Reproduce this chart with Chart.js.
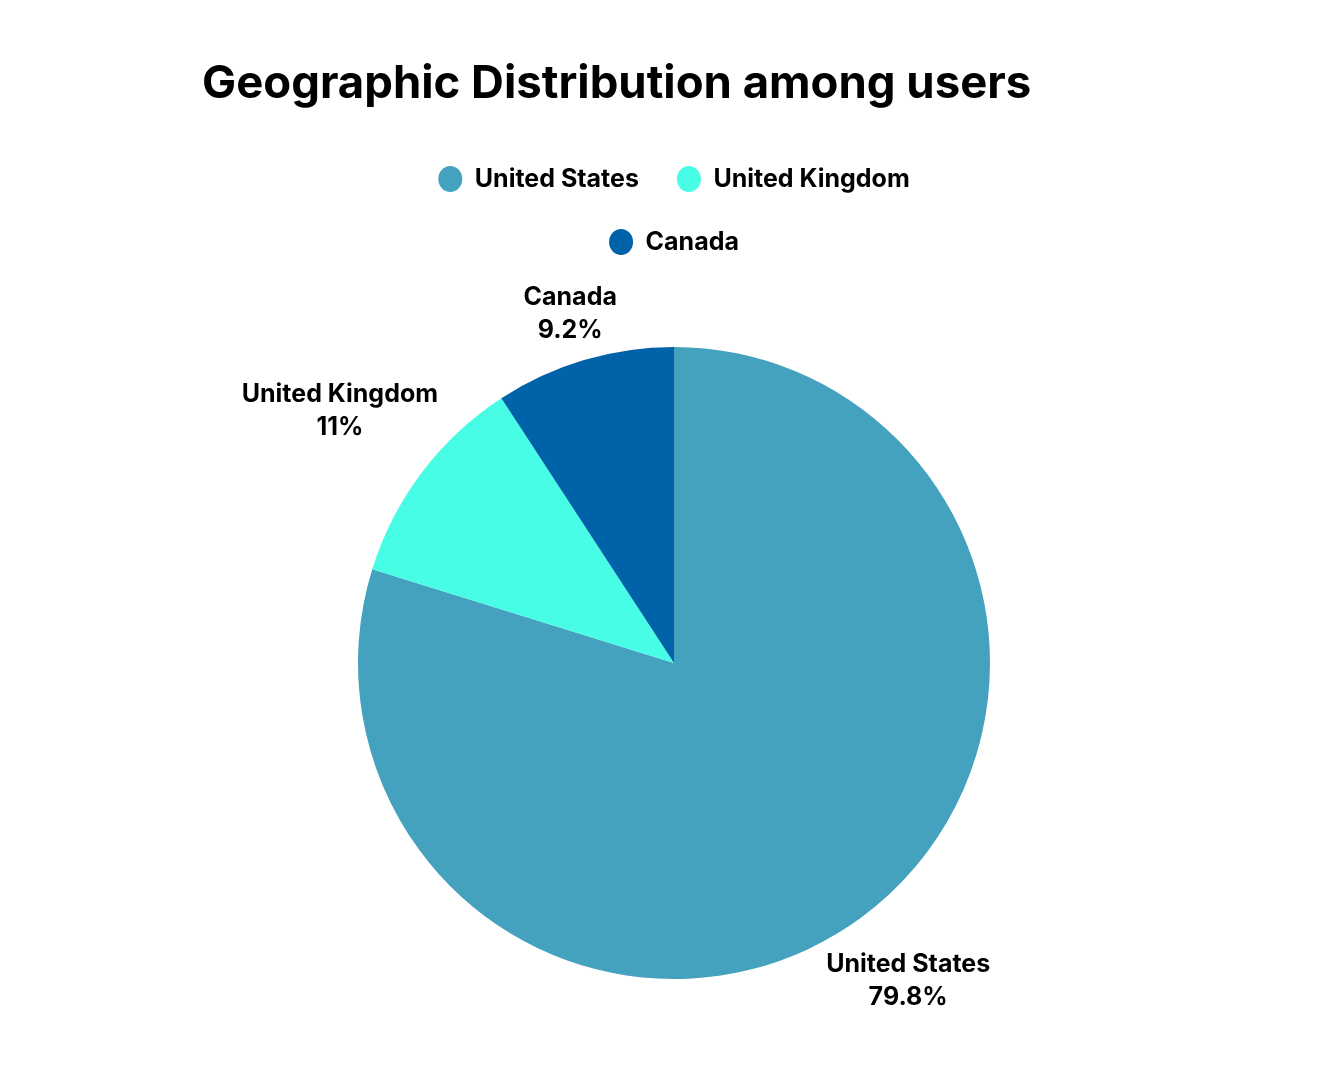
<!DOCTYPE html>
<html>
<head>
<meta charset="utf-8">
<script src="https://cdn.jsdelivr.net/npm/chart.js@4.4.1/dist/chart.umd.min.js"></script>
<style>
  html, body { margin: 0; padding: 0; background: #fff; }
  #wrap { width: 1325px; height: 1080px; }
</style>
</head>
<body>
<div id="wrap"><canvas id="geoChart" width="1325" height="1080"></canvas></div>
<script>
const chartTitle = 'Geographic Distribution among users';
const countries = ['United States', 'United Kingdom', 'Canada'];
const userShares = [79.8, 11, 9.2];
const sliceColors = ['#45A2BE', '#48FDE6', '#0062A9'];

const FONT = 'Inter, "Noto Sans", sans-serif';

// title drawn by hand so it can sit left of the narrow legend box
const titlePlugin = {
    id: 'leftTitle',
    afterDraw(chart) {
        const ctx = chart.ctx;
        ctx.save();
        ctx.font = '700 45.5px ' + FONT;
        ctx.fillStyle = '#000';
        ctx.textAlign = 'left';
        ctx.textBaseline = 'alphabetic';
        ctx.fillText(chartTitle, 202, 98);
        ctx.restore();
    }
};

// name + percentage outside each slice
const outsideLabels = {
    id: 'outsideLabels',
    afterDatasetsDraw(chart) {
        const ctx = chart.ctx;
        const meta = chart.getDatasetMeta(0);
        const fontSize = 25;
        const lineGap = 33;
        ctx.save();
        ctx.font = '700 ' + fontSize + 'px ' + FONT;
        ctx.fillStyle = '#000';
        ctx.textAlign = 'center';
        ctx.textBaseline = 'middle';
        meta.data.forEach((arc, i) => {
            const p = arc.getProps(['x', 'y', 'startAngle', 'endAngle', 'outerRadius'], true);
            const a = (p.startAngle + p.endAngle) / 2;
            const line1 = chart.data.labels[i];
            const line2 = chart.data.datasets[0].data[i] + '%';
            const hw = Math.max(ctx.measureText(line1).width, ctx.measureText(line2).width) / 2;
            const hh = (lineGap + fontSize) / 2;
            const ext = hw * Math.abs(Math.cos(a)) + hh * Math.abs(Math.sin(a));
            const d = p.outerRadius + 7 + ext;
            const lx = p.x + d * Math.cos(a);
            const ly = p.y + d * Math.sin(a);
            ctx.fillText(line1, lx, ly - lineGap / 2);
            ctx.fillText(line2, lx, ly + lineGap / 2);
        });
        ctx.restore();
    }
};

const ctx = document.getElementById('geoChart').getContext('2d');

const geoChart = new Chart(ctx, {
    type: 'pie',
    data: {
        labels: countries,
        datasets: [{
            data: userShares,
            backgroundColor: sliceColors,
            borderWidth: 0
        }]
    },
    options: {
        responsive: false,
        animation: false,
        layout: {
            padding: { top: 128.5, bottom: 18.5, left: 358, right: 335 }
        },
        plugins: {
            title: { display: false },
            tooltip: { enabled: false },
            legend: {
                position: 'top',
                labels: {
                    usePointStyle: true,
                    pointStyle: 'circle',
                    pointStyleWidth: 24,
                    boxHeight: 18.4,
                    padding: 38,
                    color: '#000',
                    font: { family: FONT, size: 25, weight: '700' }
                }
            }
        }
    },
    plugins: [titlePlugin, outsideLabels]
});
</script>
</body>
</html>
